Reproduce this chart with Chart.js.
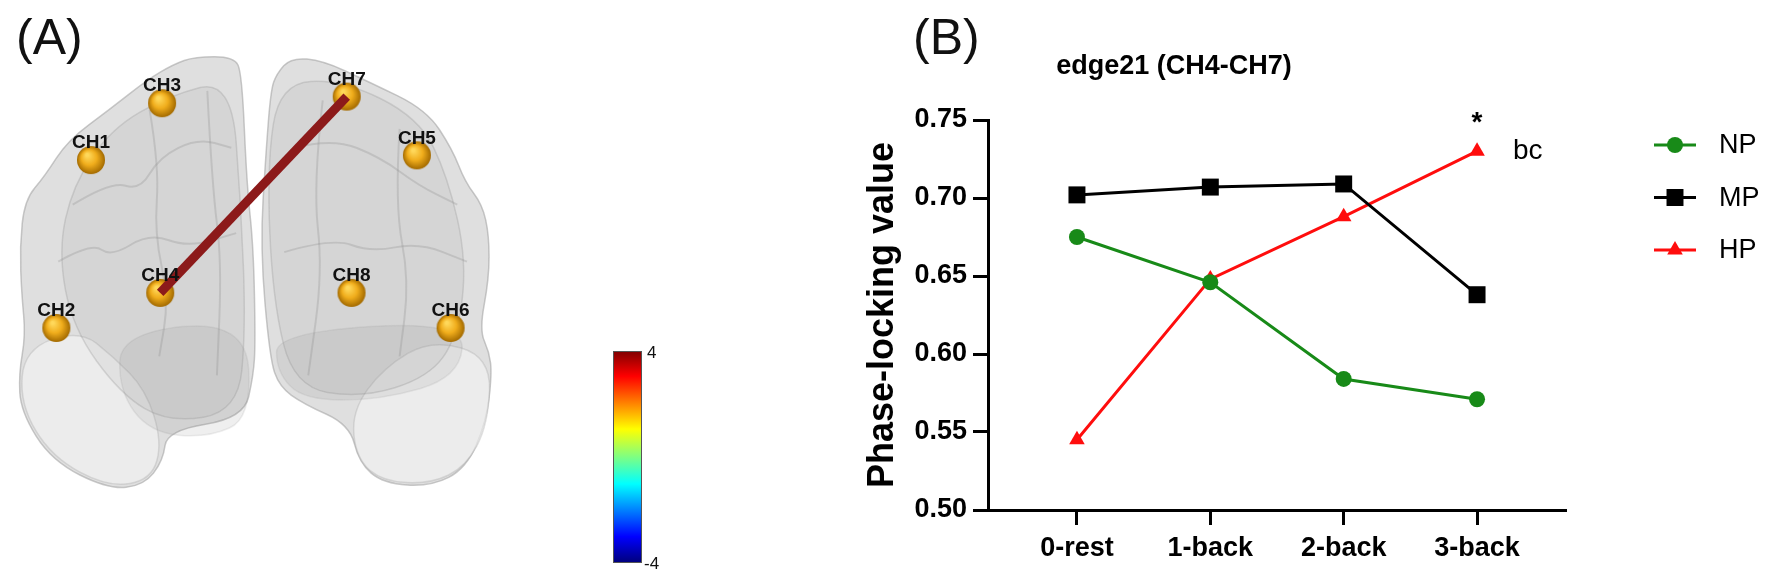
<!DOCTYPE html>
<html><head><meta charset="utf-8">
<script src="https://cdn.jsdelivr.net/npm/chart.js@4.4.1/dist/chart.umd.min.js"></script>
<style>
html,body{margin:0;padding:0;background:#fff;width:1772px;height:582px;overflow:hidden;font-family:"Liberation Sans",Arial,sans-serif;}
#wa{position:absolute;left:0;top:0;width:780px;height:582px;}
#wb{position:absolute;left:780px;top:0;width:992px;height:582px;}
.lab{position:absolute;font-family:"Liberation Sans",Arial,sans-serif;font-size:50px;line-height:50px;color:#111;}
</style></head><body>
<div id="wa"><canvas id="ca"></canvas></div>
<div id="wb"><canvas id="cb"></canvas></div>
<div class="lab" style="left:16px;top:12px;">(A)</div>
<div class="lab" style="left:913px;top:12px;">(B)</div>
<script>
// ---- Panel B data ----
const categories = ['0-rest', '1-back', '2-back', '3-back'];
const seriesNames = ['NP', 'MP', 'HP'];
const npValues = [0.675, 0.646, 0.584, 0.571];
const mpValues = [0.702, 0.707, 0.709, 0.638];
const hpValues = [0.545, 0.648, 0.688, 0.730];
const yTicks = [0.50, 0.55, 0.60, 0.65, 0.70, 0.75];
const chartTitle = 'edge21 (CH4-CH7)';
const yTitle = 'Phase-locking value';
const starLabel = '*';
const sigLabel = 'bc';

// ---- Panel A data ----
const channelNames = ['CH1', 'CH2', 'CH3', 'CH4', 'CH5', 'CH6', 'CH7', 'CH8'];
const channelX = [79, 43, 153, 151, 418, 453, 345, 350];
const channelY = [153, 330, 93, 293, 148, 330, 86, 293];
const edgePair = ['CH4', 'CH7'];
const colorbarTicks = ['4', '-4'];

const FONT = '"Liberation Sans", Arial, sans-serif';

// ---------- Panel A ----------
function sphereImage(r) {
  const c = document.createElement('canvas');
  c.width = c.height = r * 2 + 2;
  const g = c.getContext('2d');
  const grd = g.createRadialGradient(r * 0.8, r * 0.7, r * 0.1, r + 1, r + 1, r);
  grd.addColorStop(0, '#ffd85a');
  grd.addColorStop(0.5, '#f0ad1c');
  grd.addColorStop(1, '#a36a00');
  g.fillStyle = grd;
  g.beginPath(); g.arc(r + 1, r + 1, r, 0, Math.PI * 2); g.fill();
  return c;
}

function smoothPath(ctx, pts, closed) {
  const n = pts.length;
  const mid = (a, b) => [(a[0] + b[0]) / 2, (a[1] + b[1]) / 2];
  ctx.beginPath();
  if (closed === false) {
    ctx.moveTo(pts[0][0], pts[0][1]);
    for (let i = 1; i < n - 1; i++) {
      const mm = mid(pts[i], pts[i + 1]);
      ctx.quadraticCurveTo(pts[i][0], pts[i][1], mm[0], mm[1]);
    }
    ctx.lineTo(pts[n - 1][0], pts[n - 1][1]);
    return;
  }
  let m = mid(pts[n - 1], pts[0]);
  ctx.moveTo(m[0], m[1]);
  for (let i = 0; i < n; i++) {
    const p = pts[i], q = pts[(i + 1) % n];
    const mm = mid(p, q);
    ctx.quadraticCurveTo(p[0], p[1], mm[0], mm[1]);
  }
  ctx.closePath();
}

const leftHemi = [[187,44],[228,44],[236,62],[241,178],[248,245],[250,345],[248,380],[238,425],[158,438],[154,470],[134,496],[97,500],[38,470],[6,418],[4,378],[11,338],[7,295],[5,245],[10,195],[31,170],[55,132],[98,100],[138,68],[165,52]];
const rightHemi = [[272,62],[287,45],[320,48],[367,70],[428,100],[455,142],[468,176],[486,200],[493,232],[493,278],[483,332],[493,355],[496,378],[490,430],[469,478],[433,497],[383,494],[358,472],[348,432],[300,410],[275,392],[265,362],[255,245],[261,145],[266,80]];
const leftLower = [[10,352],[67,332],[102,360],[136,395],[153,450],[142,490],[97,498],[38,466],[5,410]];
const rightLower = [[433,342],[495,360],[492,432],[469,476],[433,494],[383,492],[355,468],[350,418],[383,372]];
const leftInner = [[100,120],[160,85],[225,68],[235,200],[240,330],[232,418],[160,430],[110,400],[60,330],[45,250],[60,180]];
const rightInner = [[275,72],[340,68],[420,108],[450,170],[470,260],[460,340],[430,382],[360,404],[290,392],[268,300],[262,160]];
const leftShadow = [[110,335],[240,322],[246,425],[200,446],[140,440],[108,396]];
const rightShadow = [[272,335],[468,322],[462,382],[380,406],[300,406],[272,376]];
const sulci = [
  [[60,200],[100,175],[130,185],[150,150],[190,130],[225,140]],
  [[45,260],[80,240],[100,255],[140,230],[180,245],[230,230]],
  [[140,100],[150,160],[145,230],[160,300],[150,360]],
  [[200,80],[205,180],[215,260],[210,380]],
  [[290,140],[330,130],[380,150],[420,180],[460,200]],
  [[280,250],[330,235],[370,250],[420,240],[470,260]],
  [[320,90],[310,180],[320,270],[305,380]],
  [[400,120],[395,200],[410,280],[400,360]]
];

const brainPlugin = {
  id: 'brain',
  beforeDatasetsDraw(chart) {
    const ctx = chart.ctx;
    const sx = chart.scales.x, sy = chart.scales.y;
    const map = pts => pts.map(p => [sx.getPixelForValue(p[0]), sy.getPixelForValue(p[1])]);
    ctx.save();
    const shapes = [
      [leftHemi, 'rgba(200,200,200,0.58)', 'rgba(165,165,165,0.6)'],
      [rightHemi, 'rgba(200,200,200,0.58)', 'rgba(165,165,165,0.6)'],
      [leftLower, 'rgba(245,245,245,0.6)', 'rgba(170,170,170,0.35)'],
      [rightLower, 'rgba(245,245,245,0.6)', 'rgba(170,170,170,0.35)'],
      [leftInner, 'rgba(150,150,150,0.12)', 'rgba(140,140,140,0.28)'],
      [rightInner, 'rgba(150,150,150,0.12)', 'rgba(140,140,140,0.28)'],
      [leftShadow, 'rgba(120,120,120,0.12)', 'rgba(140,140,140,0.15)'],
      [rightShadow, 'rgba(120,120,120,0.12)', 'rgba(140,140,140,0.15)']
    ];
    shapes.forEach(s => {
      smoothPath(ctx, map(s[0]));
      ctx.fillStyle = s[1]; ctx.fill();
      ctx.strokeStyle = s[2]; ctx.lineWidth = 1.5; ctx.stroke();
    });
    ctx.strokeStyle = 'rgba(140,140,140,0.28)';
    ctx.lineWidth = 2;
    sulci.forEach(c => { smoothPath(ctx, map(c), false); ctx.stroke(); });
    ctx.restore();
  },
  afterDatasetsDraw(chart) {
    const ctx = chart.ctx;
    const meta = chart.getDatasetMeta(1);
    ctx.save();
    ctx.font = 'bold 19px ' + FONT;
    ctx.fillStyle = '#111';
    ctx.textAlign = 'center';
    ctx.textBaseline = 'middle';
    meta.data.forEach((pt, i) => {
      ctx.fillText(channelNames[i], pt.x, pt.y - 17);
    });
    const x0 = 613, y0 = 351, w = 28, h = 211;
    const g = ctx.createLinearGradient(0, y0, 0, y0 + h);
    g.addColorStop(0, '#7f0000');
    g.addColorStop(0.12, '#ff0000');
    g.addColorStop(0.37, '#ffff00');
    g.addColorStop(0.5, '#80ff80');
    g.addColorStop(0.63, '#00ffff');
    g.addColorStop(0.88, '#0000ff');
    g.addColorStop(1, '#00007f');
    ctx.fillStyle = g;
    ctx.fillRect(x0, y0, w, h);
    ctx.strokeStyle = '#555'; ctx.lineWidth = 1;
    ctx.strokeRect(x0 + 0.5, y0 + 0.5, w, h);
    ctx.font = '17px ' + FONT;
    ctx.fillStyle = '#111';
    ctx.textAlign = 'left';
    ctx.fillText(colorbarTicks[0], x0 + w + 6, y0 + 2);
    ctx.fillText(colorbarTicks[1], x0 + w + 3, y0 + h + 2);
    ctx.restore();
  }
};

const nodePoints = channelNames.map((n, i) => ({ x: channelX[i], y: channelY[i] }));
const edgePoints = edgePair.map(n => { const i = channelNames.indexOf(n); return { x: channelX[i], y: channelY[i] }; });

new Chart(document.getElementById('ca'), {
  type: 'scatter',
  data: {
    datasets: [
      { data: edgePoints, showLine: true, borderColor: '#8c1a1a', borderWidth: 9, pointRadius: 0, borderCapStyle: 'butt' },
      { data: nodePoints, pointStyle: sphereImage(14), pointRadius: 14 }
    ]
  },
  options: {
    responsive: true, maintainAspectRatio: false, animation: false,
    layout: { padding: 0 },
    plugins: { legend: { display: false }, tooltip: { enabled: false } },
    scales: {
      x: { type: 'linear', min: 0, max: 780, display: false },
      y: { type: 'linear', min: 0, max: 582, reverse: true, display: false }
    }
  },
  plugins: [brainPlugin]
});

// ---------- Panel B ----------
const seriesValues = [npValues, mpValues, hpValues];
const seriesColors = ['#188a18', '#000000', '#ff0d0d'];
const seriesStyles = ['circle', 'rect', 'triangle'];
const seriesRadius = [8, 12, 9];

function drawMarker(ctx, style, x, y, r, color) {
  ctx.fillStyle = color;
  ctx.beginPath();
  if (style === 'circle') { ctx.arc(x, y, r, 0, Math.PI * 2); }
  else if (style === 'rect') { const s = r * Math.SQRT1_2; ctx.rect(x - s, y - s, 2 * s, 2 * s); }
  else {
    ctx.moveTo(x, y - r);
    ctx.lineTo(x + r * Math.sin(Math.PI * 2 / 3), y - r * Math.cos(Math.PI * 2 / 3));
    ctx.lineTo(x - r * Math.sin(Math.PI * 2 / 3), y - r * Math.cos(Math.PI * 2 / 3));
    ctx.closePath();
  }
  ctx.fill();
}

const extrasPlugin = {
  id: 'extras',
  afterDraw(chart) {
    const ctx = chart.ctx;
    const ca = chart.chartArea;
    ctx.save();
    ctx.font = 'bold 27px ' + FONT;
    ctx.fillStyle = '#000';
    ctx.textAlign = 'center';
    ctx.textBaseline = 'middle';
    ctx.fillText(chartTitle, ca.left + 186, 67);
    const meta = chart.getDatasetMeta(2);
    const p = meta.data[meta.data.length - 1];
    ctx.font = 'bold 28px ' + FONT;
    ctx.fillText(starLabel, p.x, p.y - 28);
    ctx.font = '28px ' + FONT;
    ctx.textAlign = 'left';
    ctx.fillText(sigLabel, p.x + 36, p.y);
    seriesNames.forEach((name, i) => {
      const y = ca.top + 25 + i * 52.5;
      const xm = ca.right + 109;
      ctx.strokeStyle = seriesColors[i];
      ctx.lineWidth = 3;
      ctx.beginPath(); ctx.moveTo(xm - 21, y); ctx.lineTo(xm + 21, y); ctx.stroke();
      drawMarker(ctx, seriesStyles[i], xm, y, seriesRadius[i], seriesColors[i]);
      ctx.font = '27px ' + FONT;
      ctx.fillStyle = '#000';
      ctx.textAlign = 'left';
      ctx.fillText(name, xm + 44, y + 1);
    });
    ctx.restore();
  }
};

new Chart(document.getElementById('cb'), {
  type: 'line',
  data: {
    datasets: seriesNames.map((name, i) => ({
      label: name,
      data: seriesValues[i].map((v, j) => ({ x: j, y: v })),
      borderColor: seriesColors[i],
      backgroundColor: seriesColors[i],
      borderWidth: 3,
      pointStyle: seriesStyles[i],
      pointRadius: seriesRadius[i],
      pointBorderWidth: 0,
      pointBackgroundColor: seriesColors[i],
      tension: 0,
      clip: false
    }))
  },
  options: {
    responsive: true, maintainAspectRatio: false, animation: false,
    layout: { padding: { left: 81, right: 206, top: 120, bottom: 22 } },
    plugins: { legend: { display: false }, tooltip: { enabled: false }, title: { display: false } },
    scales: {
      x: {
        type: 'linear', min: -0.667, max: 3.667,
        afterBuildTicks: s => { s.ticks = categories.map((c, i) => ({ value: i })); },
        afterFit: s => { s.height = 50; },
        ticks: { callback: v => categories[v], font: { family: FONT, size: 27, weight: 'bold' }, color: '#000', padding: 7, maxRotation: 0, autoSkip: false },
        grid: { drawOnChartArea: false, drawTicks: true, tickLength: 15, tickWidth: 3, tickColor: '#000' },
        border: { display: true, color: '#000', width: 3 }
      },
      y: {
        type: 'linear', min: 0.5, max: 0.75,
        afterBuildTicks: s => { s.ticks = yTicks.map(v => ({ value: v })); },
        afterFit: s => { s.width = 127; },
        ticks: { callback: v => v.toFixed(2), font: { family: FONT, size: 27, weight: 'bold' }, color: '#000', padding: 6 },
        grid: { drawOnChartArea: false, drawTicks: true, tickLength: 15, tickWidth: 3, tickColor: '#000' },
        border: { display: true, color: '#000', width: 3 },
        title: { display: true, text: yTitle, font: { family: FONT, size: 36, weight: 'bold' }, color: '#000', padding: { top: 0, bottom: 4 } }
      }
    }
  },
  plugins: [extrasPlugin]
});
</script>
</body></html>
